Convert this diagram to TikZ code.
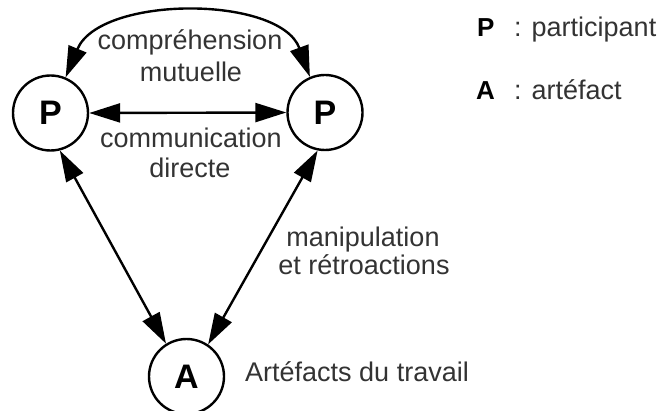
\documentclass[tikz,border=0pt]{standalone}
\usepackage{fontspec}
\setmainfont{Liberation Sans}
\usetikzlibrary{arrows.meta}
\definecolor{txt}{rgb}{0.2,0.2,0.2}
\tikzset{
  ent/.style={circle, draw=black, line width=2.4pt, minimum size=75pt, inner sep=0pt,
              font=\fontsize{34}{40}\selectfont\bfseries},
  lbl/.style={inner sep=0pt, text=txt, font=\fontsize{27}{32}\selectfont},
  leg/.style={inner sep=0pt, anchor=base west, font=\fontsize{26}{30}\selectfont\bfseries},
  conn/.style={line width=2.4pt, {Triangle[length=31pt,width=19pt]}-{Triangle[length=31pt,width=19pt]}}
}
\begin{document}
\begin{tikzpicture}[x=1pt,y=-1pt]
\useasboundingbox (0,0) rectangle (663,411);
\node[ent] (Pl) at (50.5,113) {P};
\node[ent] (Pr) at (325,112.5) {P};
\node[ent] (A) at (186.5,376.5) {A};
% connectors
\draw[conn] (Pl.east) -- (Pr.west);
\draw[conn] (Pl.67) .. controls (100,-5) and (280,-5) .. (Pr.113);
\draw[conn] (Pl.-76) -- (A.122);
\draw[conn] (Pr.-101) -- (A.56);
% labels
\node[lbl, anchor=base] (t1) at (190,50) {compréhension};
\node[lbl, anchor=base] (t2) at (191,82) {mutuelle};
\node[lbl, anchor=base] (t3) at (191,148) {communication};
\node[lbl, anchor=base] (t4) at (190,178) {directe};
\node[lbl, anchor=base] (t5) at (363,247) {manipulation};
\node[lbl, anchor=base] (t6) at (364,275) {et rétroactions};
\node[lbl, anchor=base west] (t7) at (245,381) {Artéfacts du travail};
% legend
\node[leg] (lp) at (477,37) {P};
\node[lbl, anchor=base west] (lpt) at (514,37) {: participant};
\node[leg] (la) at (476,100) {A};
\node[lbl, anchor=base west] (lat) at (514,100) {: artéfact};
\end{tikzpicture}
\end{document}
